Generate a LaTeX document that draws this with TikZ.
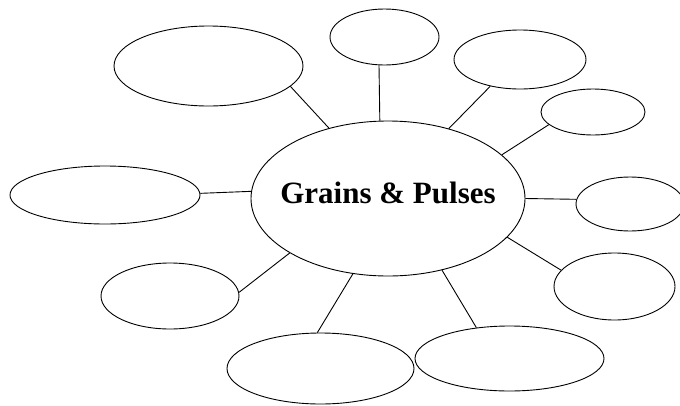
\documentclass[tikz,border=0pt]{standalone}
\usepackage{fontspec}
\setmainfont{Liberation Serif}
\usetikzlibrary{shapes.geometric}
\tikzset{
  bub/.style={draw,ellipse,inner sep=0pt,line width=0.9pt},
  lnk/.style={line width=0.9pt},
  ttl/.style={font=\bfseries\fontsize{31}{31}\selectfont,anchor=base}
}
\newcommand{\bub}[4]{\node[bub,minimum width=#3,minimum height=#4] (#1) at #2 {};}

\begin{document}
\begin{tikzpicture}[x=1pt,y=-1pt]
\useasboundingbox (0,0) rectangle (680,405);
\bub{c}{(388,198.5)}{274}{155}
\node[ttl] (ct) at (388,203) {Grains \& Pulses};
\bub{tl}{(208.5,66)}{189}{80}
\bub{tp}{(384.5,37)}{109}{56}
\bub{tr}{(520,59.5)}{132}{59}
\bub{ru}{(593,112)}{104}{46}
\bub{rt}{(630,204)}{108}{54}
\bub{rl}{(614.5,286.5)}{121}{67}
\bub{br}{(509.5,358.5)}{189}{65}
\bub{bt}{(320.5,368.5)}{187}{71}
\bub{ll}{(170,296)}{138}{66}
\bub{lf}{(105,195)}{190}{58}
% connectors
\draw[lnk] (c.130.9) -- (tl.-14.6);
\draw[lnk] (c.96.5) -- (tp.-101);
\draw[lnk] (c.49.1) -- (tr.-138.5);
\draw[lnk] (c.21.8) -- (ru.-164.5);
\draw[lnk] (c.-0.6) -- (rt.175.8);
\draw[lnk] (c.-18.8) -- (rl.163.2);
\draw[lnk] (c.-53) -- (br.137.7);
\draw[lnk] (c.-115.5) -- (bt.95.6);
\draw[lnk] (c.-151.2) -- (ll.3.3);
\draw[lnk] (c.177.7) -- (lf.1.2);
\end{tikzpicture}
\end{document}
